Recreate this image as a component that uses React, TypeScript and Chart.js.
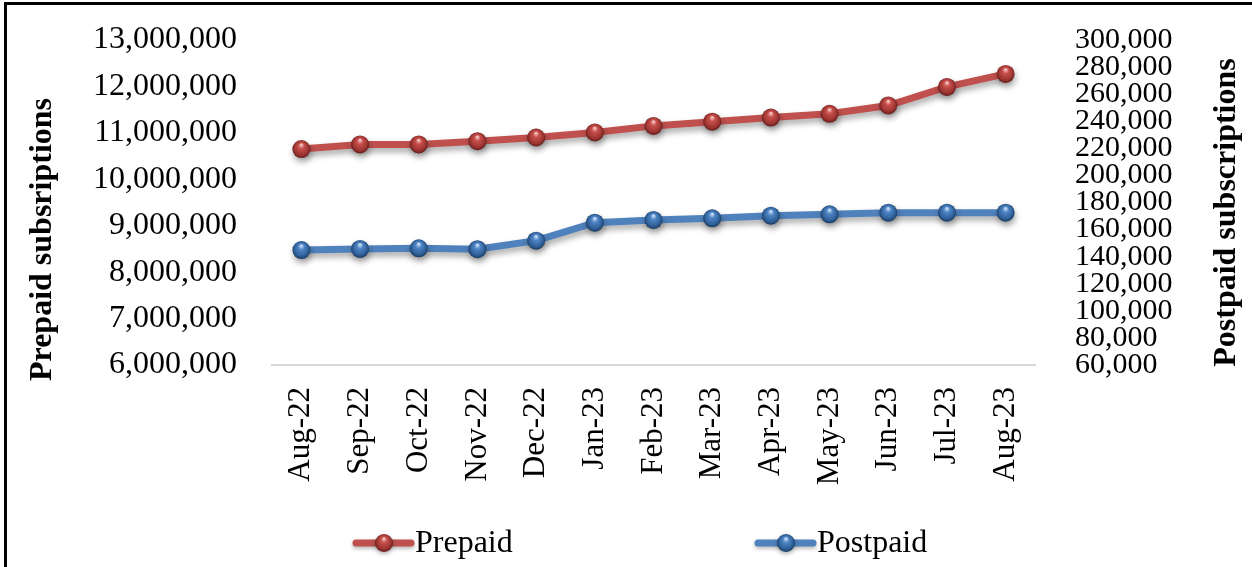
import React, { useEffect, useRef } from "react";
import { Chart, registerables } from "chart.js";

Chart.register(...registerables);

const months = [
  "Aug-22", "Sep-22", "Oct-22", "Nov-22", "Dec-22", "Jan-23", "Feb-23",
  "Mar-23", "Apr-23", "May-23", "Jun-23", "Jul-23", "Aug-23",
];
const prepaid = [
  10650000, 10750000, 10750000, 10820000, 10900000, 11010000, 11150000,
  11240000, 11330000, 11410000, 11590000, 11990000, 12270000,
];
const postpaid = [
  144900, 145700, 146200, 145500, 151800, 165100, 167100,
  168300, 170300, 171300, 172500, 172500, 172500,
];
const seriesNames = ["Prepaid", "Postpaid"];
const leftAxisMin = 6000000;
const leftAxisMax = 13000000;
const leftAxisStep = 1000000;
const rightAxisMin = 60000;
const rightAxisMax = 300000;
const rightAxisStep = 20000;
const leftTitle = "Prepaid subsriptions";
const rightTitle = "Postpaid subscriptions";

const FONT = "'Liberation Serif', 'Times New Roman', serif";
const W = 1252;
const H = 567;

type Palette = { line: string; hi: string; base: string; dark: string; rim: string };
const RED: Palette = { line: "#c0504d", hi: "#f6c9c7", base: "#c8504c", dark: "#9c3431", rim: "#5a1a18" };
const BLUE: Palette = { line: "#4f81bd", hi: "#cfe2f8", base: "#4f86c6", dark: "#2f5f98", rim: "#153558" };

function ballGradient(ctx: CanvasRenderingContext2D, x: number, y: number, r: number, p: Palette) {
  const g = ctx.createRadialGradient(x, y - r * 0.5, r * 0.05, x, y, r * 1.05);
  g.addColorStop(0, p.hi);
  g.addColorStop(0.28, p.base);
  g.addColorStop(0.75, p.dark);
  g.addColorStop(1, p.rim);
  return g;
}

function ballFill(p: Palette, axisId: string) {
  return (c: any) => {
    if (c.type !== "data") return p.base;
    const chart = c.chart;
    const xs = chart.scales.x;
    const ys = chart.scales[axisId];
    if (!xs || !ys) return p.base;
    const x = xs.getPixelForValue(c.dataIndex);
    const y = ys.getPixelForValue(c.raw);
    if (!isFinite(x) || !isFinite(y)) return p.base;
    return ballGradient(chart.ctx, x, y, 9, p);
  };
}

const shadowPlugin = {
  id: "softShadow",
  beforeDatasetsDraw(chart: any) {
    const ctx = chart.ctx;
    ctx.save();
    ctx.shadowColor = "rgba(0,0,0,0.35)";
    ctx.shadowBlur = 6;
    ctx.shadowOffsetX = 1;
    ctx.shadowOffsetY = 4;
  },
  afterDatasetsDraw(chart: any) {
    chart.ctx.restore();
  },
};

const titlesPlugin = {
  id: "axisTitlesCustom",
  afterDraw(chart: any) {
    const { ctx, chartArea } = chart;
    const mid = (chartArea.top + chartArea.bottom) / 2;
    ctx.save();
    ctx.font = `bold 32px ${FONT}`;
    ctx.fillStyle = "#000";
    ctx.textAlign = "center";
    ctx.textBaseline = "middle";
    const put = (t: string, x: number, y: number) => {
      ctx.save();
      ctx.translate(x, y);
      ctx.rotate(-Math.PI / 2);
      ctx.fillText(t, 0, 0);
      ctx.restore();
    };
    put(leftTitle, chartArea.left - 229, mid + 37);
    put(rightTitle, chartArea.right + 192, mid + 10);
    ctx.restore();
  },
};

const legendPlugin = {
  id: "lineBallLegend",
  afterDraw(chart: any) {
    const { ctx, chartArea } = chart;
    const y = 543;
    const starts = [chartArea.left + 84, chartArea.left + 486];
    const pals = [RED, BLUE];
    ctx.save();
    chart.data.datasets.forEach((ds: any, i: number) => {
      const x0 = starts[i];
      const p = pals[i];
      ctx.save();
      ctx.shadowColor = "rgba(0,0,0,0.3)";
      ctx.shadowBlur = 4;
      ctx.shadowOffsetY = 2;
      ctx.strokeStyle = p.line;
      ctx.lineWidth = 7;
      ctx.lineCap = "round";
      ctx.beginPath();
      ctx.moveTo(x0, y);
      ctx.lineTo(x0 + 55, y);
      ctx.stroke();
      ctx.beginPath();
      ctx.arc(x0 + 28, y, 9, 0, Math.PI * 2);
      ctx.fillStyle = ballGradient(ctx, x0 + 28, y, 9, p);
      ctx.fill();
      ctx.restore();
      ctx.font = `32px ${FONT}`;
      ctx.fillStyle = "#000";
      ctx.textAlign = "left";
      ctx.textBaseline = "middle";
      ctx.fillText(ds.label, x0 + 59, y + 1);
    });
    ctx.restore();
  },
};

export default function App() {
  const ref = useRef<HTMLCanvasElement>(null);

  useEffect(() => {
    document.body.style.margin = "0";
    const canvas = ref.current;
    if (!canvas) return;
    const fmt = (v: any) => Number(v).toLocaleString("en-US");
    const chart = new Chart(canvas, {
      type: "line",
      data: {
        labels: months,
        datasets: [
          {
            label: seriesNames[0],
            data: prepaid,
            yAxisID: "y",
            borderColor: RED.line,
            backgroundColor: RED.line,
            borderWidth: 7,
            tension: 0,
            pointRadius: 9,
            pointHoverRadius: 9,
            pointBorderWidth: 0,
            pointBackgroundColor: ballFill(RED, "y") as any,
          },
          {
            label: seriesNames[1],
            data: postpaid,
            yAxisID: "y1",
            borderColor: BLUE.line,
            backgroundColor: BLUE.line,
            borderWidth: 7,
            tension: 0,
            pointRadius: 9,
            pointHoverRadius: 9,
            pointBorderWidth: 0,
            pointBackgroundColor: ballFill(BLUE, "y1") as any,
          },
        ],
      },
      options: {
        responsive: false,
        animation: false,
        devicePixelRatio: 1,
        layout: { padding: { top: 40, left: 0, right: 0, bottom: 0 } },
        plugins: {
          legend: { display: false },
          tooltip: { enabled: false },
        },
        scales: {
          x: {
            type: "category",
            offset: true,
            grid: { display: false, drawTicks: false },
            border: { display: true, color: "#d9d9d9", width: 2 },
            ticks: {
              autoSkip: false,
              maxRotation: 90,
              minRotation: 90,
              padding: 22,
              color: "#000",
              font: { size: 31, family: FONT },
            },
            afterFit: (s: any) => {
              s.height = 202;
              s.paddingLeft = 0;
              s.paddingRight = 0;
            },
          },
          y: {
            type: "linear",
            position: "left",
            min: leftAxisMin,
            max: leftAxisMax,
            grid: { display: false, drawTicks: false },
            border: { display: false },
            ticks: {
              stepSize: leftAxisStep,
              autoSkip: false,
              padding: 35,
              color: "#000",
              font: { size: 32, family: FONT },
              callback: fmt,
            },
            afterFit: (s: any) => {
              s.width = 272;
              s.paddingTop = 0;
              s.paddingBottom = 0;
            },
          },
          y1: {
            type: "linear",
            position: "right",
            min: rightAxisMin,
            max: rightAxisMax,
            grid: { display: false, drawTicks: false },
            border: { display: false },
            ticks: {
              stepSize: rightAxisStep,
              autoSkip: false,
              padding: 40,
              color: "#000",
              font: { size: 30, family: FONT },
              callback: fmt,
            },
            afterFit: (s: any) => {
              s.width = 217;
              s.paddingTop = 0;
              s.paddingBottom = 0;
            },
          },
        },
      },
      plugins: [shadowPlugin, titlesPlugin, legendPlugin],
    });
    return () => chart.destroy();
  }, []);

  return (
    <div style={{ position: "relative", width: W, height: H, overflow: "hidden", background: "#fff" }}>
      <canvas ref={ref} width={W} height={H} style={{ width: W, height: H, display: "block" }} />
      <div
        style={{
          position: "absolute",
          left: 4,
          top: 2,
          width: W + 20,
          height: H + 20,
          borderLeft: "3px solid #000",
          borderTop: "3px solid #000",
          pointerEvents: "none",
          boxSizing: "border-box",
        }}
      />
    </div>
  );
}
